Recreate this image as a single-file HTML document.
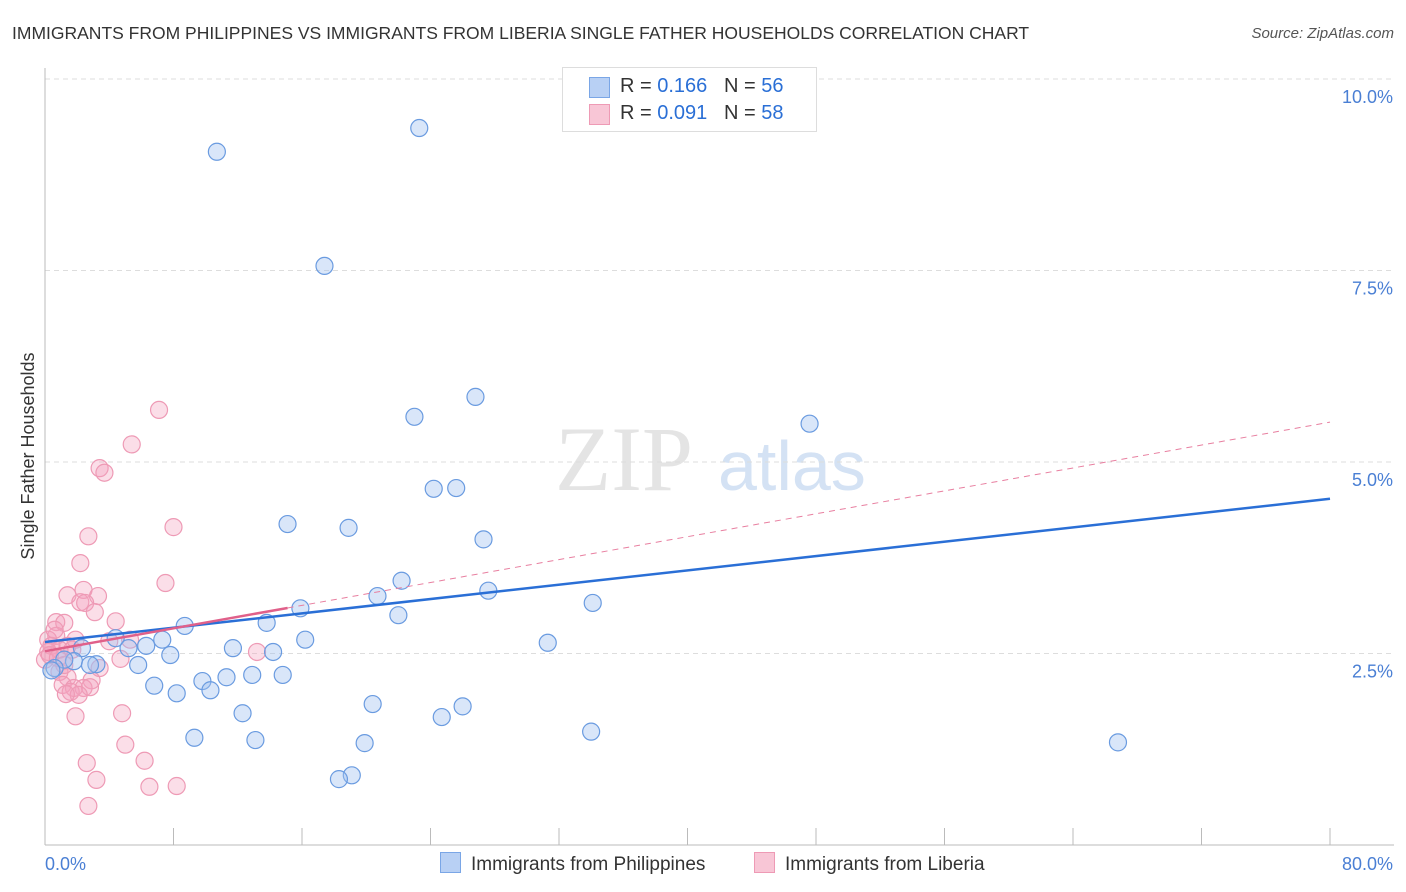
<!DOCTYPE html>
<html><head><meta charset="utf-8"><style>
body{margin:0;background:#fff;font-family:"Liberation Sans",sans-serif;}
#wrap{position:relative;width:1406px;height:892px;overflow:hidden;}
.t{position:absolute;white-space:nowrap;}
</style></head><body>
<div id="wrap">
<div class="t" style="left:12px;top:23px;font-size:17.5px;color:#333;">IMMIGRANTS FROM PHILIPPINES VS IMMIGRANTS FROM LIBERIA SINGLE FATHER HOUSEHOLDS CORRELATION CHART</div>
<div class="t" style="right:12px;top:25px;font-size:15px;color:#555;font-style:italic;">Source: ZipAtlas.com</div>
<svg id="svg" width="1406" height="892" style="position:absolute;left:0;top:0"></svg>
</div>
<script>
const yTicks=[2.5,5.0,7.5,10.0];
const yTickLabels=["2.5%","5.0%","7.5%","10.0%"];
const xEndLabels=["0.0%","80.0%"];
const blueX=[10.7,23.3,17.4,26.8,23.0,47.6,24.2,25.6,15.1,18.9,27.3,22.2,20.7,27.6,34.1,15.9,22.0,8.7,13.8,31.3,16.2,4.4,7.3,6.3,5.2,11.7,14.2,7.8,2.3,5.8,3.2,1.8,1.2,0.6,12.9,11.3,14.8,9.8,6.8,10.3,8.2,20.4,26.0,12.3,24.7,34.0,9.3,13.1,19.9,66.8,19.1,18.3,0.4,2.8];
const blueY=[9.05,9.36,7.56,5.85,5.59,5.50,4.65,4.66,4.19,4.14,3.99,3.45,3.25,3.32,3.16,3.09,3.00,2.86,2.90,2.64,2.68,2.70,2.68,2.60,2.57,2.57,2.52,2.48,2.57,2.35,2.36,2.40,2.42,2.31,2.22,2.19,2.22,2.14,2.08,2.02,1.98,1.84,1.81,1.72,1.67,1.48,1.40,1.37,1.33,1.34,0.91,0.86,2.28,2.35];
const pinkX=[7.1,5.4,3.4,3.7,8.0,2.7,2.2,7.5,2.4,1.4,3.3,2.2,2.5,3.1,4.4,0.7,1.2,0.7,0.2,5.3,4.0,1.4,0.4,0.9,0.2,13.2,4.7,0,3.4,0.9,1.4,2.9,1.1,1.8,2.4,2.8,1.6,2.1,1.3,1.9,4.8,5.0,2.6,6.2,3.2,6.5,8.2,2.7,0.3,0.8,1.7,0.6,1.9,1.2];
const pinkY=[5.68,5.23,4.92,4.86,4.15,4.03,3.68,3.42,3.33,3.26,3.25,3.17,3.16,3.04,2.92,2.91,2.90,2.73,2.68,2.68,2.66,2.60,2.60,2.55,2.52,2.52,2.43,2.42,2.31,2.26,2.19,2.15,2.09,2.05,2.05,2.06,2.00,1.96,1.97,1.68,1.72,1.31,1.07,1.10,0.85,0.76,0.77,0.51,2.48,2.44,2.55,2.81,2.68,2.35];
const blueTrend=[2.65,4.52];
const pinkTrend=[2.53,5.52];
const pinkSolidEnd=15.1;

const X=v=>45+v*1285/80, Y=v=>845-v*76.6;
const svg=document.getElementById('svg');const NS='http://www.w3.org/2000/svg';
function mk(tag,at,name){const e=document.createElementNS(NS,tag);for(const k in at)e.setAttribute(k,at[k]);


svg.appendChild(e);return e;}
// watermark
let w=mk('text',{x:555,y:490,'font-size':92,'font-family':'Liberation Serif',fill:'#e4e4e4'},'watermark-zip');w.textContent='ZIP';
w=mk('text',{x:718,y:490,'font-size':70,'font-family':'Liberation Sans',fill:'#d4e2f4'},'watermark-atlas');w.textContent='atlas';
yTicks.forEach((t,i)=>{
 mk('line',{x1:45,x2:1394,y1:Y(t),y2:Y(t),stroke:'#ddd','stroke-dasharray':'5,4'},'gridline');
 const tx=mk('text',{x:1393,y:Y(t)+24,'text-anchor':'end','font-size':18,fill:'#4a7fd4'},'y-tick-label');tx.textContent=yTickLabels[i];
});
mk('line',{x1:45,x2:45,y1:68,y2:845,stroke:'#bbb'},'y-axis');
mk('line',{x1:45,x2:1394,y1:845,y2:845,stroke:'#bbb'},'x-axis');
for(let i=0;i<=10;i++)mk('line',{x1:X(i*8),x2:X(i*8),y1:828,y2:845,stroke:'#bbb'},'x-tick');
let t=mk('text',{x:45,y:870,'font-size':18,fill:'#4a7fd4'},'x-min-label');t.textContent=xEndLabels[0];
t=mk('text',{x:1393,y:870,'text-anchor':'end','font-size':18,fill:'#4a7fd4'},'x-max-label');t.textContent=xEndLabels[1];
t=mk('text',{x:34,y:456,'font-size':18,fill:'#333','text-anchor':'middle',transform:'rotate(-90 34 456)'},'y-axis-title');t.textContent='Single Father Households';
pinkX.forEach((v,i)=>mk('circle',{cx:X(v),cy:Y(pinkY[i]),r:8.5,fill:'rgba(244,160,188,0.35)',stroke:'#ee9ab5','stroke-width':1.2},'liberia-point'));
blueX.forEach((v,i)=>mk('circle',{cx:X(v),cy:Y(blueY[i]),r:8.5,fill:'rgba(160,192,240,0.4)',stroke:'#6a9be0','stroke-width':1.2},'philippines-point'));
const pAt=x=>pinkTrend[0]+(pinkTrend[1]-pinkTrend[0])*x/80;
mk('line',{x1:X(pinkSolidEnd),y1:Y(pAt(pinkSolidEnd)),x2:X(80),y2:Y(pinkTrend[1]),stroke:'#e87fa0','stroke-width':1,'stroke-dasharray':'6,5'},'liberia-trend-dashed');
mk('line',{x1:X(0),y1:Y(blueTrend[0]),x2:X(80),y2:Y(blueTrend[1]),stroke:'#2a6fd6','stroke-width':2.5},'philippines-trend');
mk('line',{x1:X(0),y1:Y(pinkTrend[0]),x2:X(pinkSolidEnd),y2:Y(pAt(pinkSolidEnd)),stroke:'#e0608a','stroke-width':2.5},'liberia-trend');
</script>
<div style="position:absolute;left:562px;top:67px;width:253px;height:63px;border:1px solid #ddd;background:#fff;font-size:20px;color:#333;">
 <div style="position:absolute;left:26px;top:9px;width:19px;height:19px;background:#b8d0f4;border:1px solid #7aa6e6;"></div>
 <div class="t" style="left:57px;top:7px;">R = <span style="color:#2a6fd6">0.166</span>&nbsp;&nbsp;&nbsp;N = <span style="color:#2a6fd6">56</span></div>
 <div style="position:absolute;left:26px;top:36px;width:19px;height:19px;background:#f8c6d6;border:1px solid #ee9ab5;"></div>
 <div class="t" style="left:57px;top:34px;">R = <span style="color:#2a6fd6">0.091</span>&nbsp;&nbsp;&nbsp;N = <span style="color:#2a6fd6">58</span></div>
</div>
<div style="position:absolute;left:440px;top:852px;font-size:19px;color:#333;">
 <div style="position:absolute;left:0;top:0;white-space:nowrap;"><span style="display:inline-block;width:19px;height:19px;background:#b8d0f4;border:1px solid #7aa6e6;vertical-align:-3px;margin-right:10px;"></span>Immigrants from Philippines</div>
 <div style="position:absolute;left:314px;top:0;white-space:nowrap;"><span style="display:inline-block;width:19px;height:19px;background:#f8c6d6;border:1px solid #ee9ab5;vertical-align:-3px;margin-right:10px;"></span>Immigrants from Liberia</div>
</div>
</body></html>
